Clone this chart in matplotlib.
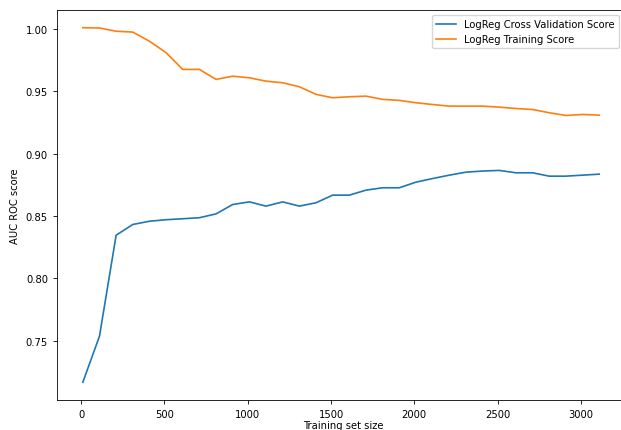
import matplotlib
matplotlib.use("Agg")
import matplotlib.pyplot as plt

train_sizes = [10, 110, 210, 310, 410, 510, 610, 710, 810, 910, 1010, 1110,
               1210, 1310, 1410, 1510, 1610, 1710, 1810, 1910, 2010, 2110,
               2210, 2310, 2410, 2510, 2610, 2710, 2810, 2910, 3010, 3110]

cv_scores = [0.7168, 0.7537, 0.8346, 0.8432, 0.8458, 0.8470, 0.8478, 0.8486,
             0.8517, 0.8592, 0.8613, 0.8579, 0.8613, 0.8579, 0.8606, 0.8667,
             0.8667, 0.8707, 0.8726, 0.8726, 0.8771, 0.8800, 0.8827, 0.8851,
             0.8860, 0.8865, 0.8846, 0.8846, 0.8819, 0.8819, 0.8827, 0.8835]

train_scores = [1.0008, 1.0006, 0.9980, 0.9973, 0.9900, 0.9808, 0.9674, 0.9674,
                0.9594, 0.9620, 0.9607, 0.9580, 0.9567, 0.9535, 0.9474, 0.9447,
                0.9455, 0.9460, 0.9434, 0.9426, 0.9407, 0.9393, 0.9380, 0.9380,
                0.9380, 0.9372, 0.9361, 0.9353, 0.9327, 0.9305, 0.9313, 0.9308]

plt.rcParams['font.family'] = ['DejaVu Sans']
plt.rcParams['font.size'] = 7.2

W, H = 621, 431
fig = plt.figure(figsize=(W / 100, H / 100), dpi=100)
left, right, top, bottom = 57, 630, 11, 401
ax = fig.add_axes([left / W, 1 - bottom / H, (right - left) / W, (bottom - top) / H])

ax.plot(train_sizes, cv_scores, color='#1f77b4', lw=1.2, label='LogReg Cross Validation Score')
ax.plot(train_sizes, train_scores, color='#ff7f0e', lw=1.2, label='LogReg Training Score')

ax.set_xlim(-145, 3265 + (630 - 625) / 0.1668)
ax.set_xticks([0, 500, 1000, 1500, 2000, 2500, 3000])
ax.set_yticks([0.75, 0.80, 0.85, 0.90, 0.95, 1.00])
ax.tick_params(labelsize=7.2, length=3, width=0.6)
for s in ax.spines.values():
    s.set_linewidth(0.6)
ax.set_xlabel('Training set size', fontsize=7.2, labelpad=1)
ax.set_ylabel('AUC ROC score', fontsize=7.2, labelpad=4)
ax.legend(loc='upper right', fontsize=7.2, framealpha=0.8,
          bbox_to_anchor=(1 - 6 / (630 - 57), 1))

fig.savefig('out.png', dpi=100)
